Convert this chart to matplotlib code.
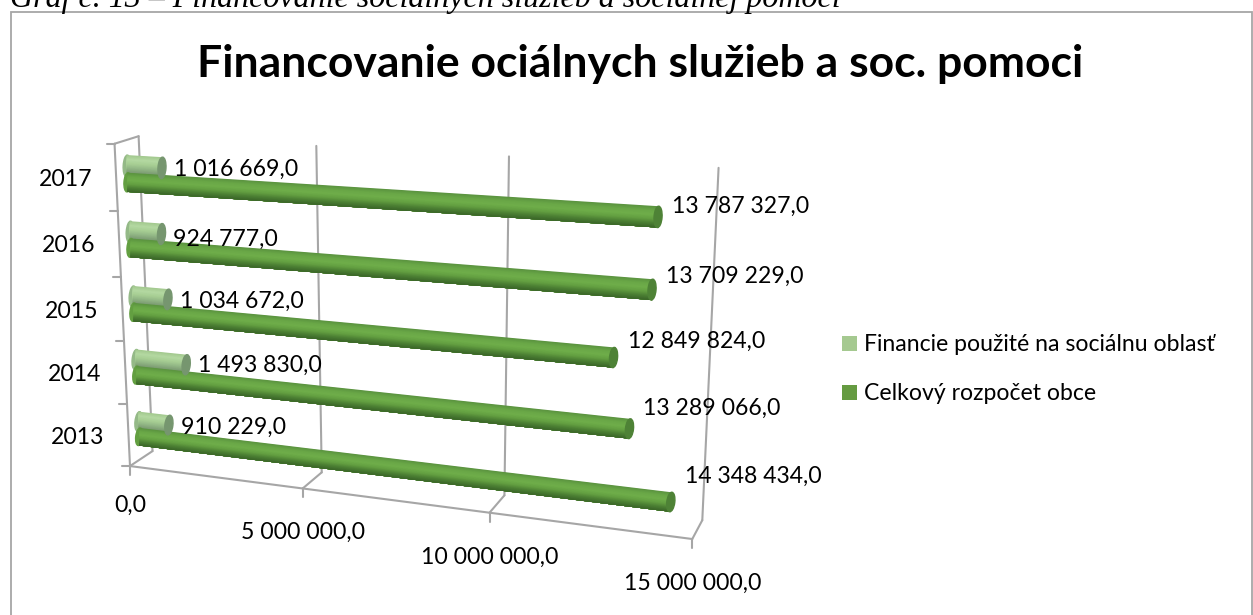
import matplotlib
matplotlib.use("Agg")
import matplotlib.pyplot as plt
from matplotlib.patches import Ellipse, Polygon, Rectangle
import numpy as np

years = ["2013", "2014", "2015", "2016", "2017"]
social = [910229.0, 1493830.0, 1034672.0, 924777.0, 1016669.0]
budget = [14348434.0, 13289066.0, 12849824.0, 13709229.0, 13787327.0]
value_ticks = [0.0, 5000000.0, 10000000.0, 15000000.0]
series_names = ["Financie použité na sociálnu oblasť", "Celkový rozpočet obce"]
VMAX = 15000000.0

GREY = "#a6a6a6"
GREEN = ["#5b9440", "#6aa847", "#6fae4a", "#639f41", "#4c8034", "#3c6829"]
LIGHT = ["#a3c98f", "#b4d9a2", "#a8cf94", "#94b987", "#7f9f75", "#6f8f68"]
GREEN_CAP = "#4e8236"
LIGHT_CAP = "#76966f"
LABEL_SIZE = 16.6

# view of the 3D box: (value share, row, depth) -> pixels
anchors = [
    (0, 0, 0, 130, 465), (1, 0, 0, 692, 538), (0, 5, 0, 114, 144),
    (0, 0, 1, 152, 451), (1, 0, 1, 702, 521), (0, 5, 1, 139, 137),
    (1, 5, 1, 718, 168), (1 / 3, 0, 1, 322, 472), (1 / 3, 0, 0, 303, 489),
    (1 / 3, 5, 1, 316, 146), (2 / 3, 5, 1, 510, 155), (2 / 3, 0, 0, 490, 514),
]


def fit_view():
    """
    Fit a projective camera to the anchor points.
    """
    rows = []
    rhs = []
    for t, r, d, px, py in anchors:
        rows.append([t, r, d, 1, 0, 0, 0, 0, -px * t, -px * r, -px * d])
        rhs.append(px)
        rows.append([0, 0, 0, 0, t, r, d, 1, -py * t, -py * r, -py * d])
        rhs.append(py)
    sol = np.linalg.lstsq(np.array(rows, float), np.array(rhs, float), rcond=None)[0]
    return np.append(sol, 1.0).reshape(3, 4)


CAM = fit_view()


def proj(t, r, d):
    u, v, w = CAM @ np.array([t, r, d, 1.0])
    return u / w, v / w


def fmt(v):
    return f"{v:,.1f}".replace(",", " ").replace(".", ",")


def axis_line(ax, a, b):
    xa, ya = a
    xb, yb = b
    ax.plot([xa, xb], [ya, yb], color=GREY, lw=1.5, solid_capstyle="round", zorder=1)


def cylinder(ax, value, r, half, d, shades, cap):
    """
    Draw a lying cylinder as shaded strips plus two end ellipses.
    Every strip reaches down to the bottom edge, so no seams show.
    """
    t = value / VMAX
    strips = 30
    edges = np.linspace(-1, 1, strips + 1)
    xs = np.linspace(0, len(shades) - 1, strips)
    rgb = np.array([matplotlib.colors.to_rgb(c) for c in shades])
    cols = np.column_stack([np.interp(xs, range(len(shades)), rgb[:, k]) for k in range(3)])
    x0, y0 = proj(0, r, d)
    x1, y1 = proj(t, r, d)
    _, top0 = proj(0, r + half, d)
    _, bot0 = proj(0, r - half, d)
    _, top1 = proj(t, r + half, d)
    _, bot1 = proj(t, r - half, d)
    h0 = abs(bot0 - top0)
    h1 = abs(bot1 - top1)
    angle = np.degrees(np.arctan2(y1 - y0, x1 - x0))
    ax.add_patch(Ellipse((x0, y0), 7, h0, angle=angle, color=shades[3], zorder=3))
    for k in range(strips):
        s0 = edges[k]
        poly = [
            (x0, y0 + s0 * h0 / 2), (x1, y1 + s0 * h1 / 2),
            (x1, y1 + h1 / 2), (x0, y0 + h0 / 2),
        ]
        ax.add_patch(Polygon(poly, closed=True, fc=cols[k], ec="none", zorder=3))
    ax.add_patch(Ellipse((x1, y1), 8, h1, angle=angle, color=cap, zorder=4))


fig = plt.figure(figsize=(12.53, 6.15), dpi=100)
ax = fig.add_axes([0, 0, 1, 1])
ax.set_xlim(0, 1253)
ax.set_ylim(615, 0)
ax.axis("off")
plt.rcParams["font.family"] = ["Lato", "DejaVu Sans"]

# chart frame and page caption, the caption is cut by the page top
ax.add_patch(Rectangle((10.5, 11.5), 1241, 640, fc="white", ec=GREY, lw=1.3, zorder=0.5))
ax.text(10, 6.5, "Graf č. 13 – Financovanie sociálnych služieb a sociálnej pomoci",
        family="Liberation Serif", style="italic", fontsize=23, ha="left", va="baseline",
        color="black", zorder=6)

ax.text(640, 64, "Financovanie ociálnych služieb a soc. pomoci", fontsize=32, fontweight="bold",
        ha="center", va="center", color="black")

# box lines
tick_dy = [39, 44, 45, 44]
axis_line(ax, proj(0, 0, 0), proj(0, 5, 0))
axis_line(ax, proj(0, 5, 0), proj(0, 5, 1))
axis_line(ax, proj(0, 5, 1), proj(0, 0, 1))
axis_line(ax, proj(0, 0, 0), proj(1, 0, 0))
for v, dy in zip(value_ticks, tick_dy):
    t = v / VMAX
    axis_line(ax, proj(t, 0, 0), proj(t, 0, 1))
    if v > 0:
        axis_line(ax, proj(t, 0, 1), proj(t, 5, 1))
    x, y = proj(t, 0, 0)
    axis_line(ax, (x, y), (x, y + 9))
    ax.text(x, y + dy, fmt(v), fontsize=LABEL_SIZE, ha="center", va="center", color="black", zorder=6)
for r in range(6):
    x, y = proj(0, r, 0)
    axis_line(ax, (x, y), (x - 8, y))

# bars, back rows first
budget_dy = [-26, -20, -16, -13, -11]
social_dy = [2, 1, 2, 5, 1]
DEPTH = 0.45
for i in range(len(years) - 1, -1, -1):
    cylinder(ax, social[i], i + 0.62, 0.16, DEPTH, LIGHT, LIGHT_CAP)
    cylinder(ax, budget[i], i + 0.37, 0.145, DEPTH, GREEN, GREEN_CAP)

    x, y = proj(budget[i] / VMAX, i + 0.37, DEPTH)
    ax.text(x + 14, y + budget_dy[i], fmt(budget[i]), fontsize=LABEL_SIZE, ha="left", va="center",
            color="black", zorder=6)
    x, y = proj(social[i] / VMAX, i + 0.62, DEPTH)
    ax.text(x + 12, y + social_dy[i], fmt(social[i]), fontsize=LABEL_SIZE, ha="left", va="center",
            color="black", zorder=6)

    x, y = proj(0, i + 0.5, 0)
    ax.text(x - 24, y + 2, years[i], fontsize=LABEL_SIZE, ha="right", va="center", color="black", zorder=6)

# legend
for name, col, y in zip(series_names, ["#a5c990", "#659b41"], [343.5, 392.5]):
    ax.add_patch(Rectangle((842, y - 7.5), 15, 15, fc=col, ec="none"))
    ax.text(864, y + 1, name, fontsize=LABEL_SIZE, ha="left", va="center", color="black")

fig.savefig("out.png", dpi=100)
